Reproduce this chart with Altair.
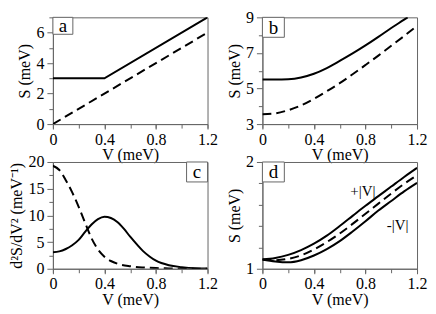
import altair as alt
import pandas as pd

# ---------------- data ----------------
# panel a
a_solid_V = [0.0, 0.4, 1.2]
a_solid_S = [3.0, 3.0, 7.0]
a_dash_V = [0.0, 1.2]
a_dash_S = [0.0, 6.0]

# panel b
b_solid_V = [0.0, 0.1, 0.2, 0.3, 0.4, 0.5, 0.6, 0.7, 0.8, 0.9, 1.0, 1.1, 1.127]
b_solid_S = [5.5, 5.5, 5.52, 5.62, 5.83, 6.15, 6.55, 6.97, 7.42, 7.9, 8.4, 8.87, 9.0]
b_dash_V = [0.0, 0.1, 0.2, 0.3, 0.4, 0.5, 0.6, 0.7, 0.8, 0.9, 1.0, 1.1, 1.2]
b_dash_S = [3.55, 3.6, 3.78, 4.05, 4.42, 4.85, 5.3, 5.8, 6.32, 6.85, 7.4, 7.95, 8.52]

# panel c
c_solid_V = [0.0, 0.05, 0.1, 0.15, 0.2, 0.25, 0.3, 0.35, 0.4, 0.45, 0.5, 0.55,
             0.6, 0.65, 0.7, 0.75, 0.8, 0.9, 1.0, 1.1, 1.2]
c_solid_S = [3.1, 3.25, 3.7, 4.4, 5.4, 6.9, 8.3, 9.3, 9.75, 9.5, 8.75, 7.5,
             6.0, 4.6, 3.3, 2.3, 1.5, 0.65, 0.3, 0.1, 0.05]
c_dash_V = [0.0, 0.05, 0.1, 0.15, 0.2, 0.25, 0.3, 0.35, 0.4, 0.45, 0.5, 0.6,
            0.7, 0.8, 0.9, 1.0, 1.1, 1.2]
c_dash_S = [19.3, 18.5, 16.6, 14.3, 11.6, 8.6, 5.7, 3.6, 2.25, 1.45, 0.95, 0.47,
            0.24, 0.12, 0.06, 0.03, 0.02, 0.01]

# panel d
d_V = [0.0, 0.1, 0.2, 0.3, 0.4, 0.5, 0.6, 0.7, 0.8, 0.9, 1.0, 1.1, 1.2]
d_plus_S = [1.086, 1.1, 1.13, 1.175, 1.235, 1.31, 1.4, 1.495, 1.59, 1.68, 1.77, 1.86, 1.945]
d_minus_S = [1.086, 1.068, 1.06, 1.08, 1.124, 1.184, 1.259, 1.349, 1.445, 1.545, 1.635, 1.725, 1.805]
d_dash_S = [1.086, 1.08, 1.093, 1.125, 1.18, 1.25, 1.33, 1.42, 1.515, 1.61, 1.705, 1.795, 1.875]
d_text = ["+|V|", "-|V|"]
d_text_V = [0.78, 1.05]
d_text_S = [1.73, 1.405]

x_major = [0.0, 0.4, 0.8, 1.2]
x_minor = [0.0, 0.2, 0.4, 0.6, 0.8, 1.0, 1.2]

# ---------------- style ----------------
FONT = "Liberation Serif"
W, H = 155, 107
GRAY = "#666666"


def sx(axis=None):
    return alt.X("V:Q", scale=alt.Scale(domain=[0, 1.2], nice=False), axis=axis)


def sy(ydom, axis=None):
    return alt.Y("S:Q", scale=alt.Scale(domain=ydom, nice=False), axis=axis)


def line(V, S, ydom, dashed=False, interp="monotone"):
    df = pd.DataFrame({"V": V, "S": S})
    kw = dict(color="black", strokeWidth=2, interpolate=interp, clip=True)
    if dashed:
        kw["strokeDash"] = [9, 5]
    return alt.Chart(df).mark_line(**kw).encode(x=sx(), y=sy(ydom))


def panel(layers, ydom, ymaj, ymin, ytitle, letter, box_w, box_h, right=False):
    x_major_axis = alt.Axis(
        values=x_major, title="V (meV)", format="~g", orient="bottom",
        tickSize=5, grid=False, labelFlush=False, labelOverlap=False,
        labelPadding=2, titlePadding=0,
    )
    x_minor_axis = alt.Axis(
        values=x_minor, title=None, labels=False, domain=False, orient="bottom",
        tickSize=4, grid=False,
    )
    y_major_axis = alt.Axis(
        values=ymaj, title=ytitle, format="~g", orient="left",
        tickSize=6, grid=False, labelFlush=False, labelOverlap=False,
        labelPadding=3, titlePadding=3,
    )
    y_minor_axis = alt.Axis(
        values=ymin, title=None, labels=False, domain=False, orient="left",
        tickSize=4, grid=False,
    )
    first = layers[0].encode(x=sx(x_major_axis), y=sy(ydom, y_major_axis))
    second = layers[1].encode(x=sx(x_minor_axis), y=sy(ydom, y_minor_axis))
    lab = pd.DataFrame({"t": [letter]})
    x0 = W - box_w if right else 0
    box = alt.Chart(lab).mark_rect(fill="white", stroke=GRAY, strokeWidth=1).encode(
        x=alt.value(x0), x2=alt.value(x0 + box_w), y=alt.value(0), y2=alt.value(box_h)
    )
    txt = alt.Chart(lab).mark_text(fontSize=19, font=FONT, baseline="middle", align="center").encode(
        x=alt.value(x0 + box_w / 2), y=alt.value(box_h / 2 + 0.5), text="t:N"
    )
    return alt.layer(first, second, *layers[2:], box, txt).resolve_axis(
        x="independent", y="independent"
    ).properties(width=W, height=H)


pa = panel(
    [line(a_solid_V, a_solid_S, [0, 7], interp="linear"),
     line(a_dash_V, a_dash_S, [0, 7], dashed=True, interp="linear")],
    [0, 7], [0, 2, 4, 6], [1, 3, 5, 7], "S (meV)", "a", 20, 17,
)
pb = panel(
    [line(b_solid_V, b_solid_S, [3, 9]),
     line(b_dash_V, b_dash_S, [3, 9], dashed=True)],
    [3, 9], [3, 5, 7, 9], [4, 6, 8], "S (meV)", "b", 22, 20,
)
pc = panel(
    [line(c_solid_V, c_solid_S, [0, 20]),
     line(c_dash_V, c_dash_S, [0, 20], dashed=True)],
    [0, 20], [0, 5, 10, 15, 20], [2.5, 7.5, 12.5, 17.5],
    "d\u00b2S/dV\u00b2 (meV\u207b\u00b9)", "c", 21, 20, right=True,
)
dtext = alt.Chart(pd.DataFrame({"V": d_text_V, "S": d_text_S, "t": d_text})).mark_text(
    font=FONT, fontSize=15, align="center", baseline="middle"
).encode(x=sx(), y=sy([1, 2]), text="t:N")
pd_ = panel(
    [line(d_V, d_plus_S, [1, 2]),
     line(d_V, d_minus_S, [1, 2]),
     line(d_V, d_dash_S, [1, 2], dashed=True),
     dtext],
    [1, 2], [1, 2], [1.2, 1.4, 1.6, 1.8],
    "S (meV)", "d", 22, 20,
)

chart = alt.concat(
    pa, pb, pc, pd_, columns=2, bounds="flush",
    spacing={"row": 38, "column": 55},
).properties(
    padding={"left": 0, "top": 0, "right": 0, "bottom": 0}
).configure_view(
    stroke=GRAY, strokeWidth=1
).configure_axis(
    labelFont=FONT, titleFont=FONT, labelFontSize=16, titleFontSize=16,
    titleFontWeight="normal", labelColor="black", titleColor="black",
    domainColor=GRAY, tickColor=GRAY, domainWidth=1, tickWidth=1,
)

chart.save("out.html", embed_options={"renderer": "svg", "actions": False})
